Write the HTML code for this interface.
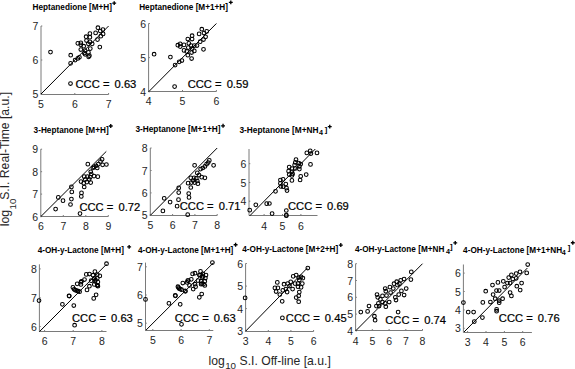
<!DOCTYPE html>
<html><head><meta charset="utf-8"><style>
html,body{margin:0;padding:0;background:#fff;overflow:hidden}
svg{display:block}
text{font-family:"Liberation Sans", sans-serif;fill:#1e1e1e}
.tk{font-size:10.5px}
.cc{fill:#000;stroke:#000;stroke-width:0.22px}
.ti{font-weight:bold;fill:#000}
.al{fill:#262626}
.ax{fill:none;stroke:#7a7a7a;stroke-width:1}
.dg{stroke:#000;stroke-width:1}
circle{fill:none;stroke:#000;stroke-width:1.05}
.pl{fill:none;stroke:#000;stroke-width:1.35}
</style></head><body>
<svg width="575" height="369" viewBox="0 0 575 369">
<rect width="575" height="369" fill="#fff"/>
<g><path d="M41.0 26.0V94.5H108.6" class="ax"/><text x="41.0" y="107.6" text-anchor="middle" class="tk">5</text><text x="74.8" y="107.6" text-anchor="middle" class="tk">6</text><text x="108.6" y="107.6" text-anchor="middle" class="tk">7</text><text x="38.4" y="98.0" text-anchor="end" class="tk">5</text><text x="38.4" y="64.0" text-anchor="end" class="tk">6</text><text x="38.4" y="30.0" text-anchor="end" class="tk">7</text><path d="M41.0 94.5v-1.5M74.8 94.5v-1.5M108.6 94.5v-1.5M41.0 94.0h1.3M41.0 60.0h1.3M41.0 26.0h1.3" class="ax"/><line x1="41.0" y1="94.0" x2="108.6" y2="26.0" class="dg"/><circle cx="97.9" cy="27.7" r="1.85"/><circle cx="102.9" cy="29.6" r="1.85"/><circle cx="100.3" cy="31.0" r="1.85"/><circle cx="95.6" cy="32.9" r="1.85"/><circle cx="89.9" cy="33.6" r="1.85"/><circle cx="86.1" cy="36.7" r="1.85"/><circle cx="89.9" cy="37.2" r="1.85"/><circle cx="103.1" cy="33.9" r="1.85"/><circle cx="100.8" cy="36.2" r="1.85"/><circle cx="97.5" cy="39.6" r="1.85"/><circle cx="80.8" cy="42.9" r="1.85"/><circle cx="80.8" cy="44.8" r="1.85"/><circle cx="86.5" cy="40.5" r="1.85"/><circle cx="88.4" cy="43.8" r="1.85"/><circle cx="92.2" cy="43.8" r="1.85"/><circle cx="89.9" cy="41.9" r="1.85"/><circle cx="83.7" cy="46.2" r="1.85"/><circle cx="99.8" cy="47.1" r="1.85"/><circle cx="80.8" cy="49.5" r="1.85"/><circle cx="85.1" cy="50.5" r="1.85"/><circle cx="90.3" cy="48.6" r="1.85"/><circle cx="88.4" cy="52.4" r="1.85"/><circle cx="85.1" cy="54.3" r="1.85"/><circle cx="89.4" cy="55.7" r="1.85"/><circle cx="70.7" cy="55.2" r="1.85"/><circle cx="75.1" cy="60.1" r="1.85"/><circle cx="77.8" cy="58.4" r="1.85"/><circle cx="79.4" cy="57.3" r="1.85"/><circle cx="70.6" cy="63.3" r="1.85"/><circle cx="88.6" cy="56.8" r="1.85"/><circle cx="77.8" cy="43.3" r="1.85"/><circle cx="84.3" cy="53" r="1.85"/><circle cx="50.5" cy="52.1" r="1.85"/><circle cx="70.5" cy="83.5" r="1.85"/><text x="75.54" y="88.20" class="cc" style="font-size:11.2px">CCC =</text><text x="114.55" y="88.20" class="cc" style="font-size:11.2px">0.63</text></g>
<g><path d="M148.6 23.5V91.5H216.4" class="ax"/><text x="148.6" y="105.4" text-anchor="middle" class="tk">4</text><text x="182.5" y="105.4" text-anchor="middle" class="tk">5</text><text x="216.4" y="105.4" text-anchor="middle" class="tk">6</text><text x="146.0" y="95.8" text-anchor="end" class="tk">4</text><text x="146.0" y="61.6" text-anchor="end" class="tk">5</text><text x="146.0" y="27.5" text-anchor="end" class="tk">6</text><path d="M148.6 91.5v-1.5M182.5 91.5v-1.5M216.4 91.5v-1.5M148.6 91.8h1.3M148.6 57.6h1.3M148.6 23.5h1.3" class="ax"/><line x1="148.6" y1="91.8" x2="216.4" y2="23.5" class="dg"/><circle cx="201.8" cy="29.2" r="1.85"/><circle cx="206.7" cy="31.4" r="1.85"/><circle cx="204" cy="33" r="1.85"/><circle cx="199.1" cy="33.9" r="1.85"/><circle cx="192.1" cy="35.7" r="1.85"/><circle cx="187.8" cy="39" r="1.85"/><circle cx="192.1" cy="39" r="1.85"/><circle cx="205.6" cy="36.8" r="1.85"/><circle cx="203.5" cy="39.5" r="1.85"/><circle cx="200.2" cy="41.7" r="1.85"/><circle cx="180.2" cy="43.8" r="1.85"/><circle cx="180.2" cy="46.6" r="1.85"/><circle cx="184" cy="44.9" r="1.85"/><circle cx="188.8" cy="43.3" r="1.85"/><circle cx="191" cy="45.5" r="1.85"/><circle cx="194.3" cy="45.5" r="1.85"/><circle cx="197" cy="45.5" r="1.85"/><circle cx="188.3" cy="47.6" r="1.85"/><circle cx="192.1" cy="48.7" r="1.85"/><circle cx="184" cy="50.4" r="1.85"/><circle cx="186.7" cy="51.4" r="1.85"/><circle cx="194.3" cy="50.9" r="1.85"/><circle cx="203.5" cy="49.3" r="1.85"/><circle cx="187.8" cy="55.2" r="1.85"/><circle cx="191.6" cy="52.5" r="1.85"/><circle cx="191.6" cy="58.5" r="1.85"/><circle cx="154.1" cy="54.2" r="1.85"/><circle cx="170.4" cy="57.1" r="1.85"/><circle cx="175.1" cy="65.1" r="1.85"/><circle cx="179.2" cy="61.8" r="1.85"/><circle cx="181.9" cy="60.5" r="1.85"/><circle cx="177.8" cy="45.2" r="1.85"/><circle cx="174.6" cy="86.6" r="1.85"/><text x="187.64" y="88.30" class="cc" style="font-size:11.2px">CCC =</text><text x="226.65" y="88.30" class="cc" style="font-size:11.2px">0.59</text></g>
<g><path d="M40.8 149.2V216.5H108.3" class="ax"/><text x="40.8" y="230.2" text-anchor="middle" class="tk">6</text><text x="63.3" y="230.2" text-anchor="middle" class="tk">7</text><text x="85.8" y="230.2" text-anchor="middle" class="tk">8</text><text x="108.3" y="230.2" text-anchor="middle" class="tk">9</text><text x="38.2" y="220.6" text-anchor="end" class="tk">6</text><text x="38.2" y="198.1" text-anchor="end" class="tk">7</text><text x="38.2" y="175.7" text-anchor="end" class="tk">8</text><text x="38.2" y="153.2" text-anchor="end" class="tk">9</text><path d="M40.8 216.5v-1.5M63.3 216.5v-1.5M85.8 216.5v-1.5M108.3 216.5v-1.5M40.8 216.6h1.3M40.8 194.1h1.3M40.8 171.7h1.3M40.8 149.2h1.3" class="ax"/><line x1="40.8" y1="216.6" x2="106.3" y2="151.4" class="dg"/><circle cx="87.8" cy="164.2" r="1.85"/><circle cx="102.1" cy="159.3" r="1.85"/><circle cx="100.5" cy="161.5" r="1.85"/><circle cx="106.4" cy="164.5" r="1.85"/><circle cx="102.6" cy="164.8" r="1.85"/><circle cx="98.3" cy="164.2" r="1.85"/><circle cx="96.1" cy="165.8" r="1.85"/><circle cx="94" cy="166.9" r="1.85"/><circle cx="92.9" cy="168" r="1.85"/><circle cx="97.2" cy="168" r="1.85"/><circle cx="90.7" cy="171.8" r="1.85"/><circle cx="91.3" cy="174" r="1.85"/><circle cx="97.8" cy="176.7" r="1.85"/><circle cx="94" cy="176.1" r="1.85"/><circle cx="84.2" cy="176.7" r="1.85"/><circle cx="87.5" cy="176.7" r="1.85"/><circle cx="90.2" cy="177.2" r="1.85"/><circle cx="85.3" cy="179.4" r="1.85"/><circle cx="89.1" cy="179.4" r="1.85"/><circle cx="81" cy="181.6" r="1.85"/><circle cx="83.7" cy="183.2" r="1.85"/><circle cx="86.9" cy="182.1" r="1.85"/><circle cx="90.7" cy="182.6" r="1.85"/><circle cx="84.2" cy="187" r="1.85"/><circle cx="81.5" cy="192.9" r="1.85"/><circle cx="71.4" cy="186.9" r="1.85"/><circle cx="71.8" cy="191.9" r="1.85"/><circle cx="58.3" cy="197.4" r="1.85"/><circle cx="63" cy="200.7" r="1.85"/><circle cx="71.4" cy="199.1" r="1.85"/><circle cx="70.5" cy="204.5" r="1.85"/><circle cx="55.6" cy="209.1" r="1.85"/><circle cx="81.3" cy="196.4" r="1.85"/><circle cx="80" cy="213.6" r="1.85"/><text x="79.44" y="210.90" class="cc" style="font-size:11.2px">CCC =</text><text x="118.45" y="210.90" class="cc" style="font-size:11.2px">0.72</text></g>
<g><path d="M150.3 148.0V215.5H217.2" class="ax"/><text x="150.3" y="229.0" text-anchor="middle" class="tk">5</text><text x="172.6" y="229.0" text-anchor="middle" class="tk">6</text><text x="194.9" y="229.0" text-anchor="middle" class="tk">7</text><text x="217.2" y="229.0" text-anchor="middle" class="tk">8</text><text x="147.7" y="219.4" text-anchor="end" class="tk">5</text><text x="147.7" y="196.9" text-anchor="end" class="tk">6</text><text x="147.7" y="174.5" text-anchor="end" class="tk">7</text><text x="147.7" y="152.0" text-anchor="end" class="tk">8</text><path d="M150.3 215.5v-1.5M172.6 215.5v-1.5M194.9 215.5v-1.5M217.2 215.5v-1.5M150.3 215.4h1.3M150.3 192.9h1.3M150.3 170.5h1.3M150.3 148.0h1.3" class="ax"/><line x1="150.3" y1="215.4" x2="217.2" y2="148.0" class="dg"/><circle cx="194.6" cy="165.3" r="1.85"/><circle cx="209.3" cy="160.4" r="1.85"/><circle cx="208.2" cy="162.6" r="1.85"/><circle cx="206.6" cy="164.2" r="1.85"/><circle cx="213.6" cy="165.3" r="1.85"/><circle cx="204.9" cy="166.4" r="1.85"/><circle cx="202.8" cy="168" r="1.85"/><circle cx="200.6" cy="169.1" r="1.85"/><circle cx="197.3" cy="172.9" r="1.85"/><circle cx="199" cy="175.1" r="1.85"/><circle cx="201.7" cy="177.2" r="1.85"/><circle cx="204.9" cy="177.8" r="1.85"/><circle cx="194.1" cy="177.8" r="1.85"/><circle cx="196.3" cy="178.3" r="1.85"/><circle cx="190.8" cy="177.8" r="1.85"/><circle cx="193" cy="180.5" r="1.85"/><circle cx="197.3" cy="181" r="1.85"/><circle cx="188.1" cy="183.2" r="1.85"/><circle cx="191.4" cy="182.6" r="1.85"/><circle cx="194.6" cy="182.6" r="1.85"/><circle cx="197.9" cy="183.7" r="1.85"/><circle cx="190.8" cy="187.5" r="1.85"/><circle cx="188.7" cy="193.5" r="1.85"/><circle cx="178.7" cy="187.9" r="1.85"/><circle cx="178.7" cy="192.6" r="1.85"/><circle cx="164.2" cy="198.3" r="1.85"/><circle cx="170.1" cy="202.1" r="1.85"/><circle cx="178.5" cy="199.7" r="1.85"/><circle cx="177.1" cy="206.2" r="1.85"/><circle cx="162.9" cy="210.9" r="1.85"/><circle cx="189" cy="197.4" r="1.85"/><circle cx="187.7" cy="214.7" r="1.85"/><text x="179.74" y="210.10" class="cc" style="font-size:11.2px">CCC =</text><text x="218.75" y="210.10" class="cc" style="font-size:11.2px">0.71</text></g>
<g><path d="M249.0 149.0V215.5H317.5" class="ax"/><text x="264.1" y="229.5" text-anchor="middle" class="tk">4</text><text x="282.5" y="229.5" text-anchor="middle" class="tk">5</text><text x="300.9" y="229.5" text-anchor="middle" class="tk">6</text><text x="246.4" y="205.2" text-anchor="end" class="tk">4</text><text x="246.4" y="186.5" text-anchor="end" class="tk">5</text><text x="246.4" y="167.7" text-anchor="end" class="tk">6</text><path d="M264.1 215.5v-1.5M282.5 215.5v-1.5M300.9 215.5v-1.5M249.0 201.2h1.3M249.0 182.5h1.3M249.0 163.7h1.3" class="ax"/><line x1="249.7" y1="215.9" x2="315.3" y2="149.0" class="dg"/><circle cx="306.8" cy="152.9" r="1.85"/><circle cx="310.2" cy="150.8" r="1.85"/><circle cx="310.9" cy="153.6" r="1.85"/><circle cx="317" cy="152.9" r="1.85"/><circle cx="310.5" cy="164.4" r="1.85"/><circle cx="296" cy="159.6" r="1.85"/><circle cx="295.3" cy="162.4" r="1.85"/><circle cx="298.7" cy="163" r="1.85"/><circle cx="300.7" cy="164.1" r="1.85"/><circle cx="294.6" cy="165.1" r="1.85"/><circle cx="299.4" cy="166.4" r="1.85"/><circle cx="289.2" cy="167.1" r="1.85"/><circle cx="291.9" cy="168.5" r="1.85"/><circle cx="295.3" cy="168.5" r="1.85"/><circle cx="299.4" cy="169.1" r="1.85"/><circle cx="288.6" cy="171.2" r="1.85"/><circle cx="291.9" cy="171.8" r="1.85"/><circle cx="289.2" cy="174.6" r="1.85"/><circle cx="291.9" cy="175.5" r="1.85"/><circle cx="292.6" cy="173.9" r="1.85"/><circle cx="306.2" cy="174.6" r="1.85"/><circle cx="300.7" cy="176.3" r="1.85"/><circle cx="300.1" cy="180" r="1.85"/><circle cx="291.9" cy="180.4" r="1.85"/><circle cx="280.4" cy="180" r="1.85"/><circle cx="283.1" cy="179.3" r="1.85"/><circle cx="280.4" cy="183.4" r="1.85"/><circle cx="285.8" cy="184" r="1.85"/><circle cx="283.1" cy="186.7" r="1.85"/><circle cx="286.5" cy="188.1" r="1.85"/><circle cx="249.7" cy="210.2" r="1.85"/><circle cx="255.8" cy="204.8" r="1.85"/><circle cx="266.7" cy="203.7" r="1.85"/><circle cx="269.4" cy="203.5" r="1.85"/><circle cx="272.1" cy="213.6" r="1.85"/><circle cx="275.5" cy="191.3" r="1.85"/><circle cx="280.9" cy="186.5" r="1.85"/><circle cx="287" cy="190.6" r="1.85"/><circle cx="286.3" cy="210.5" r="1.85"/><circle cx="286.3" cy="215.7" r="1.85"/><circle cx="286.3" cy="215.2" r="1.85"/><text x="288.04" y="210.30" class="cc" style="font-size:11.2px">CCC =</text><text x="327.05" y="210.30" class="cc" style="font-size:11.2px">0.69</text></g>
<g><path d="M39.4 264.3V331.5H106.5" class="ax"/><text x="44.6" y="345.3" text-anchor="middle" class="tk">6</text><text x="73.2" y="345.3" text-anchor="middle" class="tk">7</text><text x="101.9" y="345.3" text-anchor="middle" class="tk">8</text><text x="36.8" y="330.5" text-anchor="end" class="tk">6</text><text x="36.8" y="301.7" text-anchor="end" class="tk">7</text><text x="36.8" y="272.9" text-anchor="end" class="tk">8</text><path d="M44.6 331.5v-1.5M73.2 331.5v-1.5M101.9 331.5v-1.5M39.4 326.5h1.3M39.4 297.7h1.3M39.4 268.9h1.3" class="ax"/><line x1="39.4" y1="331.7" x2="106.5" y2="264.3" class="dg"/><circle cx="106.5" cy="263.7" r="1.85"/><circle cx="94.9" cy="271.6" r="1.85"/><circle cx="86.3" cy="274.4" r="1.85"/><circle cx="89.4" cy="274" r="1.85"/><circle cx="93" cy="275.2" r="1.85"/><circle cx="97.3" cy="274.6" r="1.85"/><circle cx="99.8" cy="275.9" r="1.85"/><circle cx="94.3" cy="278.3" r="1.85"/><circle cx="97.3" cy="278.3" r="1.85"/><circle cx="84.5" cy="279.5" r="1.85"/><circle cx="81.5" cy="281.3" r="1.85"/><circle cx="91.2" cy="280.7" r="1.85"/><circle cx="94.9" cy="281.3" r="1.85"/><circle cx="97.9" cy="282" r="1.85"/><circle cx="77.2" cy="283.8" r="1.85"/><circle cx="80.9" cy="284.4" r="1.85"/><circle cx="94.3" cy="284.4" r="1.85"/><circle cx="97.3" cy="285" r="1.85"/><circle cx="89.4" cy="286.2" r="1.85"/><circle cx="97.9" cy="286.2" r="1.85"/><circle cx="72.9" cy="287.4" r="1.85"/><circle cx="74.1" cy="289.3" r="1.85"/><circle cx="76.6" cy="290.5" r="1.85"/><circle cx="79.6" cy="291.7" r="1.85"/><circle cx="87" cy="289.9" r="1.85"/><circle cx="69.3" cy="296" r="1.85"/><circle cx="96.1" cy="294.8" r="1.85"/><circle cx="93.7" cy="298.4" r="1.85"/><circle cx="39" cy="300.6" r="1.85"/><circle cx="62.4" cy="304.3" r="1.85"/><circle cx="73.8" cy="305.5" r="1.85"/><circle cx="74.6" cy="325.2" r="1.85"/><circle cx="80.9" cy="282.2" r="1.85"/><circle cx="75.4" cy="290.2" r="1.85"/><circle cx="78.1" cy="291.2" r="1.85"/><circle cx="94.3" cy="278.8" r="1.85"/><circle cx="97.3" cy="285.6" r="1.85"/><circle cx="95.5" cy="280.1" r="1.85"/><circle cx="69.0" cy="295.8" r="1.85"/><text x="72.04" y="321.70" class="cc" style="font-size:11.2px">CCC =</text><text x="111.05" y="321.70" class="cc" style="font-size:11.2px">0.63</text></g>
<g><path d="M145.5 262.6V330.5H213.3" class="ax"/><text x="152.8" y="343.9" text-anchor="middle" class="tk">5</text><text x="181.1" y="343.9" text-anchor="middle" class="tk">6</text><text x="209.3" y="343.9" text-anchor="middle" class="tk">7</text><text x="142.9" y="327.2" text-anchor="end" class="tk">5</text><text x="142.9" y="299.0" text-anchor="end" class="tk">6</text><text x="142.9" y="270.8" text-anchor="end" class="tk">7</text><path d="M152.8 330.5v-1.5M181.1 330.5v-1.5M209.3 330.5v-1.5M145.5 323.2h1.3M145.5 295.0h1.3M145.5 266.8h1.3" class="ax"/><line x1="145.8" y1="330.3" x2="213.3" y2="262.9" class="dg"/><circle cx="212.4" cy="262.6" r="1.85"/><circle cx="200.5" cy="271.4" r="1.85"/><circle cx="192.6" cy="273.9" r="1.85"/><circle cx="195" cy="273.2" r="1.85"/><circle cx="199.3" cy="275.1" r="1.85"/><circle cx="202.9" cy="273.9" r="1.85"/><circle cx="206" cy="275.1" r="1.85"/><circle cx="202.3" cy="277.5" r="1.85"/><circle cx="205.4" cy="278.1" r="1.85"/><circle cx="191.3" cy="279.3" r="1.85"/><circle cx="188.3" cy="280.6" r="1.85"/><circle cx="187.1" cy="282.4" r="1.85"/><circle cx="198" cy="280.6" r="1.85"/><circle cx="201.1" cy="281.2" r="1.85"/><circle cx="204.8" cy="281.2" r="1.85"/><circle cx="182.8" cy="283" r="1.85"/><circle cx="195" cy="284.2" r="1.85"/><circle cx="201.1" cy="284.2" r="1.85"/><circle cx="204.8" cy="285.4" r="1.85"/><circle cx="189.5" cy="285.4" r="1.85"/><circle cx="177.9" cy="286.7" r="1.85"/><circle cx="179.1" cy="288.5" r="1.85"/><circle cx="181.6" cy="289.7" r="1.85"/><circle cx="185.2" cy="290.9" r="1.85"/><circle cx="193.2" cy="289.1" r="1.85"/><circle cx="195.6" cy="286.7" r="1.85"/><circle cx="175.5" cy="295.8" r="1.85"/><circle cx="201.7" cy="294" r="1.85"/><circle cx="199.3" cy="297.3" r="1.85"/><circle cx="145.5" cy="299.4" r="1.85"/><circle cx="168.9" cy="303.3" r="1.85"/><circle cx="180.2" cy="304.3" r="1.85"/><circle cx="181.5" cy="324.3" r="1.85"/><circle cx="178.5" cy="287.6" r="1.85"/><circle cx="180.3" cy="289.1" r="1.85"/><circle cx="185.4" cy="291.3" r="1.85"/><circle cx="187.7" cy="280.6" r="1.85"/><circle cx="200.5" cy="275.1" r="1.85"/><circle cx="202.9" cy="276.3" r="1.85"/><circle cx="201.7" cy="283.6" r="1.85"/><circle cx="203.5" cy="284.2" r="1.85"/><circle cx="175.2" cy="295.4" r="1.85"/><text x="174.84" y="321.70" class="cc" style="font-size:11.2px">CCC =</text><text x="213.85" y="321.70" class="cc" style="font-size:11.2px">0.63</text></g>
<g><path d="M245.6 263.5V331.5H313.6" class="ax"/><text x="245.6" y="344.8" text-anchor="middle" class="tk">3</text><text x="268.3" y="344.8" text-anchor="middle" class="tk">4</text><text x="290.9" y="344.8" text-anchor="middle" class="tk">5</text><text x="313.6" y="344.8" text-anchor="middle" class="tk">6</text><text x="243.0" y="335.2" text-anchor="end" class="tk">3</text><text x="243.0" y="312.6" text-anchor="end" class="tk">4</text><text x="243.0" y="290.1" text-anchor="end" class="tk">5</text><text x="243.0" y="267.5" text-anchor="end" class="tk">6</text><path d="M245.6 331.5v-1.5M268.3 331.5v-1.5M290.9 331.5v-1.5M313.6 331.5v-1.5M245.6 331.2h1.3M245.6 308.6h1.3M245.6 286.1h1.3M245.6 263.5h1.3" class="ax"/><line x1="245.6" y1="331.2" x2="307.5" y2="267.8" class="dg"/><circle cx="307.8" cy="268" r="1.85"/><circle cx="293.2" cy="276.3" r="1.85"/><circle cx="296.2" cy="275.1" r="1.85"/><circle cx="298.7" cy="277.5" r="1.85"/><circle cx="301.1" cy="276.9" r="1.85"/><circle cx="302.9" cy="278.1" r="1.85"/><circle cx="299.3" cy="280" r="1.85"/><circle cx="277.3" cy="282.4" r="1.85"/><circle cx="284" cy="284.2" r="1.85"/><circle cx="287.7" cy="283.6" r="1.85"/><circle cx="290.7" cy="281.8" r="1.85"/><circle cx="295" cy="283.6" r="1.85"/><circle cx="298" cy="283.6" r="1.85"/><circle cx="302.3" cy="283.6" r="1.85"/><circle cx="274.9" cy="287.9" r="1.85"/><circle cx="277.9" cy="287.9" r="1.85"/><circle cx="282.8" cy="290.3" r="1.85"/><circle cx="285.9" cy="289.1" r="1.85"/><circle cx="289.5" cy="286" r="1.85"/><circle cx="292.6" cy="289.1" r="1.85"/><circle cx="298" cy="286.7" r="1.85"/><circle cx="301.1" cy="287.3" r="1.85"/><circle cx="276.1" cy="291.5" r="1.85"/><circle cx="279.8" cy="294.6" r="1.85"/><circle cx="287.1" cy="292.1" r="1.85"/><circle cx="299.3" cy="292.1" r="1.85"/><circle cx="298.7" cy="295.8" r="1.85"/><circle cx="296.2" cy="297.6" r="1.85"/><circle cx="282.2" cy="301.3" r="1.85"/><circle cx="298.7" cy="301.7" r="1.85"/><circle cx="245.1" cy="297.9" r="1.85"/><circle cx="282.4" cy="317.9" r="1.85"/><text x="285.84" y="321.70" class="cc" style="font-size:11.2px">CCC =</text><text x="324.85" y="321.70" class="cc" style="font-size:11.2px">0.45</text></g>
<g><path d="M355.6 263.7V330.5H422.5" class="ax"/><text x="355.6" y="344.5" text-anchor="middle" class="tk">4</text><text x="372.3" y="344.5" text-anchor="middle" class="tk">5</text><text x="389.1" y="344.5" text-anchor="middle" class="tk">6</text><text x="405.8" y="344.5" text-anchor="middle" class="tk">7</text><text x="422.5" y="344.5" text-anchor="middle" class="tk">8</text><text x="353.0" y="334.9" text-anchor="end" class="tk">4</text><text x="353.0" y="318.1" text-anchor="end" class="tk">5</text><text x="353.0" y="301.3" text-anchor="end" class="tk">6</text><text x="353.0" y="284.5" text-anchor="end" class="tk">7</text><text x="353.0" y="267.7" text-anchor="end" class="tk">8</text><path d="M355.6 330.5v-1.5M372.3 330.5v-1.5M389.1 330.5v-1.5M405.8 330.5v-1.5M422.5 330.5v-1.5M355.6 330.9h1.3M355.6 314.1h1.3M355.6 297.3h1.3M355.6 280.5h1.3M355.6 263.7h1.3" class="ax"/><line x1="355.6" y1="330.9" x2="422.5" y2="263.7" class="dg"/><circle cx="411.3" cy="271.9" r="1.85"/><circle cx="410.9" cy="279.6" r="1.85"/><circle cx="404.1" cy="279" r="1.85"/><circle cx="400.7" cy="280.3" r="1.85"/><circle cx="396.7" cy="281.7" r="1.85"/><circle cx="394" cy="283.7" r="1.85"/><circle cx="399.4" cy="283.7" r="1.85"/><circle cx="397.4" cy="285.1" r="1.85"/><circle cx="406.2" cy="288.5" r="1.85"/><circle cx="389.9" cy="287.1" r="1.85"/><circle cx="385.2" cy="288.5" r="1.85"/><circle cx="393.3" cy="288.5" r="1.85"/><circle cx="385.8" cy="291.2" r="1.85"/><circle cx="390.6" cy="292.5" r="1.85"/><circle cx="401.4" cy="290.9" r="1.85"/><circle cx="398.7" cy="294.6" r="1.85"/><circle cx="404.1" cy="295" r="1.85"/><circle cx="395.3" cy="297.3" r="1.85"/><circle cx="396" cy="300" r="1.85"/><circle cx="382.5" cy="295.9" r="1.85"/><circle cx="386.5" cy="295.5" r="1.85"/><circle cx="377" cy="294.6" r="1.85"/><circle cx="377.7" cy="297.3" r="1.85"/><circle cx="380.4" cy="299.3" r="1.85"/><circle cx="389.2" cy="302" r="1.85"/><circle cx="385.2" cy="303.4" r="1.85"/><circle cx="382.5" cy="302" r="1.85"/><circle cx="378.4" cy="303.4" r="1.85"/><circle cx="376.4" cy="306.1" r="1.85"/><circle cx="385.8" cy="306.7" r="1.85"/><circle cx="360.8" cy="312.1" r="1.85"/><circle cx="369" cy="306" r="1.85"/><circle cx="367.6" cy="311.4" r="1.85"/><circle cx="374.4" cy="316.2" r="1.85"/><circle cx="375.1" cy="320.2" r="1.85"/><circle cx="379.1" cy="306" r="1.85"/><circle cx="398.1" cy="312.1" r="1.85"/><text x="385.24" y="323.70" class="cc" style="font-size:11.2px">CCC =</text><text x="424.25" y="323.70" class="cc" style="font-size:11.2px">0.74</text></g>
<g><path d="M463.4 264.5V332.5H531.9" class="ax"/><text x="467.6" y="345.6" text-anchor="middle" class="tk">3</text><text x="486.0" y="345.6" text-anchor="middle" class="tk">4</text><text x="504.4" y="345.6" text-anchor="middle" class="tk">5</text><text x="522.7" y="345.6" text-anchor="middle" class="tk">6</text><text x="460.8" y="332.3" text-anchor="end" class="tk">3</text><text x="460.8" y="313.9" text-anchor="end" class="tk">4</text><text x="460.8" y="295.5" text-anchor="end" class="tk">5</text><text x="460.8" y="277.1" text-anchor="end" class="tk">6</text><path d="M467.6 332.5v-1.5M486.0 332.5v-1.5M504.4 332.5v-1.5M522.7 332.5v-1.5M463.4 328.3h1.3M463.4 309.9h1.3M463.4 291.5h1.3M463.4 273.1h1.3" class="ax"/><line x1="464.0" y1="332.0" x2="527.4" y2="268.0" class="dg"/><circle cx="527.7" cy="264.5" r="1.85"/><circle cx="526.7" cy="272.9" r="1.85"/><circle cx="520" cy="271.8" r="1.85"/><circle cx="516.2" cy="273.6" r="1.85"/><circle cx="511.4" cy="274.9" r="1.85"/><circle cx="508.7" cy="277.6" r="1.85"/><circle cx="512.8" cy="279" r="1.85"/><circle cx="516.2" cy="278.3" r="1.85"/><circle cx="503.3" cy="281.3" r="1.85"/><circle cx="497.9" cy="282.4" r="1.85"/><circle cx="507.4" cy="283.1" r="1.85"/><circle cx="510.1" cy="283.1" r="1.85"/><circle cx="521.6" cy="283.1" r="1.85"/><circle cx="492.5" cy="285.1" r="1.85"/><circle cx="504.6" cy="287.1" r="1.85"/><circle cx="516.8" cy="286.2" r="1.85"/><circle cx="520.2" cy="290.1" r="1.85"/><circle cx="496.5" cy="290.5" r="1.85"/><circle cx="499.2" cy="290.5" r="1.85"/><circle cx="485.7" cy="291.2" r="1.85"/><circle cx="493.1" cy="294.6" r="1.85"/><circle cx="510.1" cy="292.6" r="1.85"/><circle cx="511.4" cy="295.9" r="1.85"/><circle cx="495.2" cy="298.7" r="1.85"/><circle cx="502.6" cy="298.7" r="1.85"/><circle cx="499.2" cy="300.7" r="1.85"/><circle cx="490.4" cy="302" r="1.85"/><circle cx="499.2" cy="302.7" r="1.85"/><circle cx="463.4" cy="302.6" r="1.85"/><circle cx="468.2" cy="312.1" r="1.85"/><circle cx="473.6" cy="312.1" r="1.85"/><circle cx="474.3" cy="321.6" r="1.85"/><circle cx="482.4" cy="317.6" r="1.85"/><circle cx="482.8" cy="302.4" r="1.85"/><circle cx="496.6" cy="309.4" r="1.85"/><circle cx="496.6" cy="311.2" r="1.85"/><text x="498.84" y="322.20" class="cc" style="font-size:11.2px">CCC =</text><text x="537.85" y="322.20" class="cc" style="font-size:11.2px">0.76</text></g>
<text transform="translate(32.57,9.70) scale(0.9545,1)" class="ti" style="font-size:8.6px">Heptanedione [M+H]</text>
<text transform="translate(139.17,9.70) scale(0.9550,1)" class="ti" style="font-size:8.6px">Heptanedione [M+1+H]</text>
<text transform="translate(33.59,132.90) scale(0.9562,1)" class="ti" style="font-size:8.6px">3-Heptanone [M+H]</text>
<text transform="translate(135.39,132.30) scale(0.9656,1)" class="ti" style="font-size:8.6px">3-Heptanone [M+1+H]</text>
<text transform="translate(239.49,132.90) scale(0.9650,1)" class="ti" style="font-size:8.6px">3-Heptanone [M+NH</text>
<text transform="translate(37.68,253.00) scale(0.9531,1)" class="ti" style="font-size:8.6px">4-OH-y-Lactone [M+H]</text>
<text transform="translate(137.88,252.70) scale(0.9507,1)" class="ti" style="font-size:8.6px">4-OH-y-Lactone [M+1+H]</text>
<text transform="translate(242.28,252.30) scale(0.9587,1)" class="ti" style="font-size:8.6px">4-OH-y-Lactone [M+2+H]</text>
<text transform="translate(354.88,251.80) scale(0.9551,1)" class="ti" style="font-size:8.6px">4-OH-y-Lactone [M+NH</text>
<text transform="translate(463.08,252.50) scale(0.9574,1)" class="ti" style="font-size:8.6px">4-OH-y-Lactone [M+1+NH</text>
<path d="M112.25 3.10h3.90M114.20 1.15v3.90" class="pl"/>
<path d="M228.85 2.40h3.90M230.80 0.45v3.90" class="pl"/>
<path d="M108.80 126.00h3.90M110.75 124.05v3.90" class="pl"/>
<path d="M221.10 125.80h3.90M223.05 123.85v3.90" class="pl"/>
<text x="319.07" y="135.18" class="ti" style="font-size:7.2px">4</text>
<text x="324.69" y="132.01" class="ti" style="font-size:7.8px">]</text>
<path d="M327.80 126.60h3.90M329.75 124.65v3.90" class="pl"/>
<path d="M127.20 246.90h3.90M129.15 244.95v3.90" class="pl"/>
<path d="M233.65 244.70h3.90M235.60 242.75v3.90" class="pl"/>
<path d="M338.85 245.05h3.90M340.80 243.10v3.90" class="pl"/>
<text x="445.97" y="254.23" class="ti" style="font-size:7.2px">4</text>
<text x="449.89" y="249.36" class="ti" style="font-size:7.8px">]</text>
<path d="M453.30 242.90h3.90M455.25 240.95v3.90" class="pl"/>
<text x="561.67" y="254.93" class="ti" style="font-size:7.2px">4</text>
<text x="567.69" y="250.31" class="ti" style="font-size:7.8px">]</text>
<path d="M570.85 242.70h3.90M572.80 240.75v3.90" class="pl"/>
<text x="208.51" y="364.50" class="al" style="font-size:12.2px">log</text>
<text x="225.16" y="368.80" class="al" style="font-size:9.8px">10</text>
<text x="239.55" y="364.50" class="al" style="font-size:12.2px">S.I. Off-line [a.u.]</text>
<g transform="translate(9.3,226.3) rotate(-90)"><text x="0.11" y="0.00" class="al" style="font-size:12.2px">log</text><text x="16.87" y="7.00" class="al" style="font-size:9.8px">10</text><text x="26.45" y="0.00" class="al" style="font-size:12.2px">S.I. Real-Time [a.u.]</text></g>
</svg>
</body></html>
